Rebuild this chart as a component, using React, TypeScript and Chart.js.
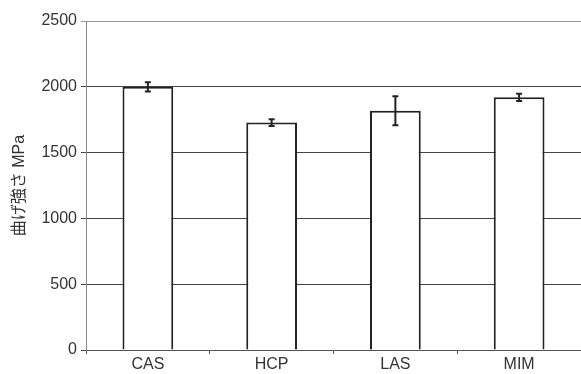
import React, { useEffect, useRef } from "react";
import { Chart, registerables } from "chart.js";

Chart.register(...registerables);

const categories = ["CAS", "HCP", "LAS", "MIM"];
const strengthValues = [2000, 1728, 1818, 1920];
const strengthErrors = [35, 25, 110, 28];
const yTicks = [0, 500, 1000, 1500, 2000, 2500];
const yTitle = "曲げ強さ MPa";

const FONT = "'Liberation Sans', 'Noto Sans CJK JP', sans-serif";

const errorBarPlugin = {
  id: "errorBars",
  afterDatasetsDraw(chart: any) {
    const meta = chart.getDatasetMeta(0);
    const y = chart.scales.y;
    const ctx = chart.ctx;
    ctx.save();
    ctx.strokeStyle = "#222";
    ctx.lineWidth = 2;
    meta.data.forEach((bar: any, i: number) => {
      const v = strengthValues[i];
      const e = strengthErrors[i];
      const top = y.getPixelForValue(v + e);
      const bot = y.getPixelForValue(v - e);
      const x = bar.x;
      ctx.beginPath();
      ctx.moveTo(x, top);
      ctx.lineTo(x, bot);
      ctx.moveTo(x - 3, top);
      ctx.lineTo(x + 3, top);
      ctx.moveTo(x - 3, bot);
      ctx.lineTo(x + 3, bot);
      ctx.stroke();
    });
    ctx.restore();
  },
};

export default function App() {
  const ref = useRef<HTMLCanvasElement>(null);
  useEffect(() => {
    document.body.style.margin = "0";
    const chart = new Chart(ref.current!, {
      type: "bar",
      data: {
        labels: categories,
        datasets: [
          {
            data: strengthValues,
            backgroundColor: "#ffffff",
            borderColor: "#222222",
            borderWidth: 2,
            categoryPercentage: 1,
            barPercentage: 0.41,
          },
        ],
      },
      options: {
        animation: false,
        responsive: false,
        maintainAspectRatio: false,
        layout: { padding: { top: 21, right: 0, left: 0, bottom: 0 } },
        plugins: { legend: { display: false }, tooltip: { enabled: false } },
        scales: {
          x: {
            grid: {
              display: true,
              drawOnChartArea: false,
              drawTicks: true,
              tickLength: 4,
              color: "#555",
              offset: true,
            },
            border: { display: true, color: "#555", width: 1 },
            ticks: {
              color: "#333",
              font: { family: FONT, size: 16 },
              padding: 1,
            },
            afterFit(scale: any) {
              scale.height = 24;
            },
          },
          y: {
            min: 0,
            max: 2500,
            afterBuildTicks(scale: any) {
              scale.ticks = yTicks.map((v) => ({ value: v }));
            },
            grid: {
              color: (c: any) => (c.tick && c.tick.value === 2500 ? "#999" : "#444"),
              lineWidth: 1,
              tickLength: 5,
              drawTicks: true,
            },
            border: { display: true, color: "#888", width: 1 },
            ticks: {
              color: "#333",
              font: { family: FONT, size: 16 },
              padding: 4,
              callback: (v: any) => String(v),
            },
            title: {
              display: true,
              text: yTitle,
              color: "#333",
              font: { family: FONT, size: 16 },
              padding: { top: 10, bottom: 4 },
            },
            afterFit(scale: any) {
              scale.width = 86;
            },
          },
        },
      },
      plugins: [errorBarPlugin],
    });
    return () => chart.destroy();
  }, []);
  return (
    <div style={{ width: 581, height: 374 }}>
      <canvas ref={ref} width={581} height={374} style={{ display: "block" }} />
    </div>
  );
}
